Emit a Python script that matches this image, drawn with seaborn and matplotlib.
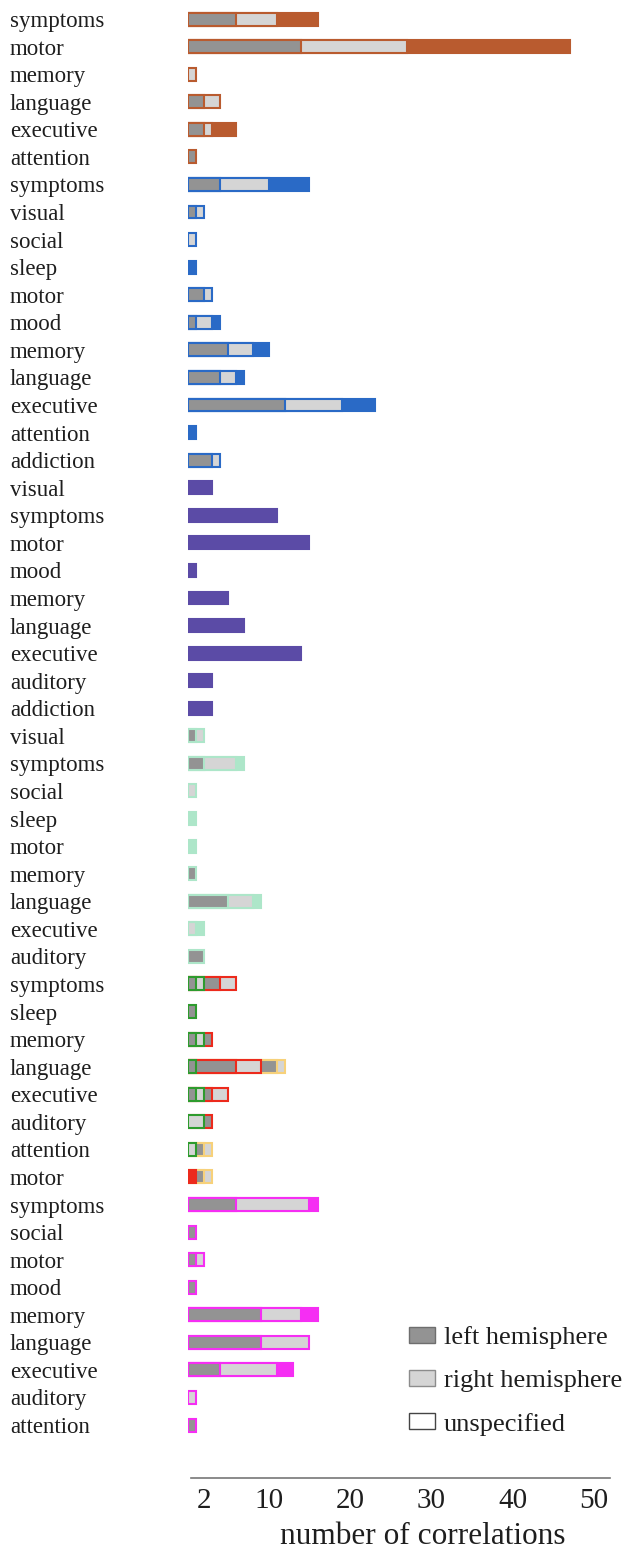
import pandas as pd
import matplotlib
matplotlib.use("Agg")
import matplotlib.pyplot as plt
from matplotlib.patches import Patch
import seaborn as sns

# ---- data: counts per row, split into left / right / unspecified hemisphere ----
orange_rows = ["symptoms", "motor", "memory", "language", "executive", "attention"]
orange_left = [6, 14, 0, 2, 2, 1]
orange_right = [5, 13, 1, 2, 1, 0]
orange_unspec = [5, 20, 0, 0, 3, 0]

blue_rows = ["symptoms", "visual", "social", "sleep", "motor", "mood", "memory",
             "language", "executive", "attention", "addiction"]
blue_left = [4, 1, 0, 0, 2, 1, 5, 4, 12, 0, 3]
blue_right = [6, 1, 1, 0, 1, 2, 3, 2, 7, 0, 1]
blue_unspec = [5, 0, 0, 1, 0, 1, 2, 1, 4, 1, 0]

purple_rows = ["visual", "symptoms", "motor", "mood", "memory", "language",
               "executive", "auditory", "addiction"]
purple_left = [0, 0, 0, 0, 0, 0, 0, 0, 0]
purple_right = [0, 0, 0, 0, 0, 0, 0, 0, 0]
purple_unspec = [3, 11, 15, 1, 5, 7, 14, 3, 3]

mint_rows = ["visual", "symptoms", "social", "sleep", "motor", "memory",
             "language", "executive", "auditory"]
mint_left = [1, 2, 0, 0, 0, 1, 5, 0, 2]
mint_right = [1, 4, 1, 0, 0, 0, 3, 1, 0]
mint_unspec = [0, 1, 0, 1, 1, 0, 1, 1, 0]

mixed_rows = ["symptoms", "sleep", "memory", "language", "executive", "auditory",
              "attention", "motor"]
green_left = [1, 1, 1, 1, 1, 0, 0, 0]
green_right = [1, 0, 1, 0, 1, 2, 1, 0]
green_unspec = [0, 0, 0, 0, 0, 0, 0, 0]
red_left = [2, 0, 1, 5, 1, 1, 0, 0]
red_right = [2, 0, 0, 3, 2, 0, 0, 0]
red_unspec = [0, 0, 0, 0, 0, 0, 0, 1]
yellow_left = [0, 0, 0, 2, 0, 0, 1, 1]
yellow_right = [0, 0, 0, 1, 0, 0, 1, 1]
yellow_unspec = [0, 0, 0, 0, 0, 0, 0, 0]

magenta_rows = ["symptoms", "social", "motor", "mood", "memory", "language",
                "executive", "auditory", "attention"]
magenta_left = [6, 1, 1, 1, 9, 9, 4, 0, 1]
magenta_right = [9, 0, 1, 0, 5, 6, 7, 1, 0]
magenta_unspec = [1, 0, 0, 0, 2, 0, 2, 0, 0]

palette = {"orange": "#b95b2f", "blue": "#2a6ac6", "purple": "#5b4ba6",
           "mint": "#ade6c9", "green": "#2e9b2e", "red": "#ec2a1c",
           "yellow": "#f7d17a", "magenta": "#f52ef3"}
left_fill, right_fill = "#939393", "#d5d5d5"

blocks = [
    (orange_rows, [("orange", orange_left, orange_right, orange_unspec)]),
    (blue_rows, [("blue", blue_left, blue_right, blue_unspec)]),
    (purple_rows, [("purple", purple_left, purple_right, purple_unspec)]),
    (mint_rows, [("mint", mint_left, mint_right, mint_unspec)]),
    (mixed_rows, [("green", green_left, green_right, green_unspec),
                  ("red", red_left, red_right, red_unspec),
                  ("yellow", yellow_left, yellow_right, yellow_unspec)]),
    (magenta_rows, [("magenta", magenta_left, magenta_right, magenta_unspec)]),
]

# long table: one record per segment, with cumulative end so the bars can be layered
recs, labels = [], []
for rows, series in blocks:
    for i, name in enumerate(rows):
        r = len(labels)
        cum, k = 0, 0
        for cname, lft, rgt, uns in series:
            for kind, val in (("left", lft[i]), ("right", rgt[i]), ("unspec", uns[i])):
                if val > 0:
                    cum += val
                    fill = {"left": left_fill, "right": right_fill}.get(kind, palette[cname])
                    recs.append(dict(row=r, key=f"r{r:02d}", layer=k, end=cum,
                                     fill=fill, edge=palette[cname]))
                    k += 1
        labels.append(name)
seg = pd.DataFrame(recs)
order = [f"r{i:02d}" for i in range(len(labels))]

# ---- plot ----
sns.set_style("white")
plt.rcParams["font.family"] = ["Liberation Serif", "DejaVu Serif"]

fig = plt.figure(figsize=(6.22, 15.5), dpi=100)
ax = fig.add_axes([187.5 / 622, 1 - 1478 / 1550, (612 - 187.5) / 622, 1478 / 1550])

# longest cumulative piece first, shorter ones on top
for k in sorted(seg["layer"].unique(), reverse=True):
    d = seg[seg["layer"] == k]
    look = d.set_index("row")
    n0 = len(ax.patches)
    sns.barplot(data=d, x="end", y="key", order=order, orient="h", width=0.47,
                color="white", errorbar=None, linewidth=1.5, ax=ax)
    for p in ax.patches[n0:]:
        r = int(round(p.get_y() + p.get_height() / 2))
        p.set_facecolor(look.loc[r, "fill"])
        p.set_edgecolor(look.loc[r, "edge"])

ax.set_xlim(0, 52.2)
ax.set_ylim(52.92, -0.69)
ax.set_ylabel("")
ax.set_yticks(range(len(labels)))
ax.set_yticklabels(labels)
ax.tick_params(axis="y", length=0, pad=127.8, labelsize=16.5, labelcolor="#1e1e1e")
for t in ax.get_yticklabels():
    t.set_ha("left")

ax.set_xticks([2, 10, 20, 30, 40, 50])
ax.tick_params(axis="x", length=0, pad=7, labelsize=21, labelcolor="#1e1e1e")
ax.set_xticks([0.43, 51.97], minor=True)
ax.tick_params(axis="x", which="minor", length=4, width=1, direction="inout", color="#555555")
ax.set_xlabel("number of correlations", fontsize=22.5, color="#1e1e1e")
ax.xaxis.set_label_coords((423 - 187.5) / 424.5, -(1537 - 1478) / 1478)
ax.xaxis.label.set_va("center")

for s in ["top", "right", "left"]:
    ax.spines[s].set_visible(False)
ax.spines["bottom"].set_color("#777777")
ax.spines["bottom"].set_linewidth(1.2)
ax.spines["bottom"].set_bounds(0.43, 51.97)

handles = [Patch(facecolor=left_fill, edgecolor="#6e6e6e", label="left hemisphere"),
           Patch(facecolor=right_fill, edgecolor="#8c8c8c", label="right hemisphere"),
           Patch(facecolor="white", edgecolor="#444444", label="unspecified")]
fig.legend(handles=handles, loc="center left", bbox_to_anchor=(409 / 622, 1 - 1381 / 1550),
           frameon=False, fontsize=19, handlelength=1.0, handleheight=0.55,
           handletextpad=0.32, labelspacing=0.78, borderpad=0, borderaxespad=0,
           labelcolor="#1e1e1e")

fig.savefig("out.png", dpi=100)
